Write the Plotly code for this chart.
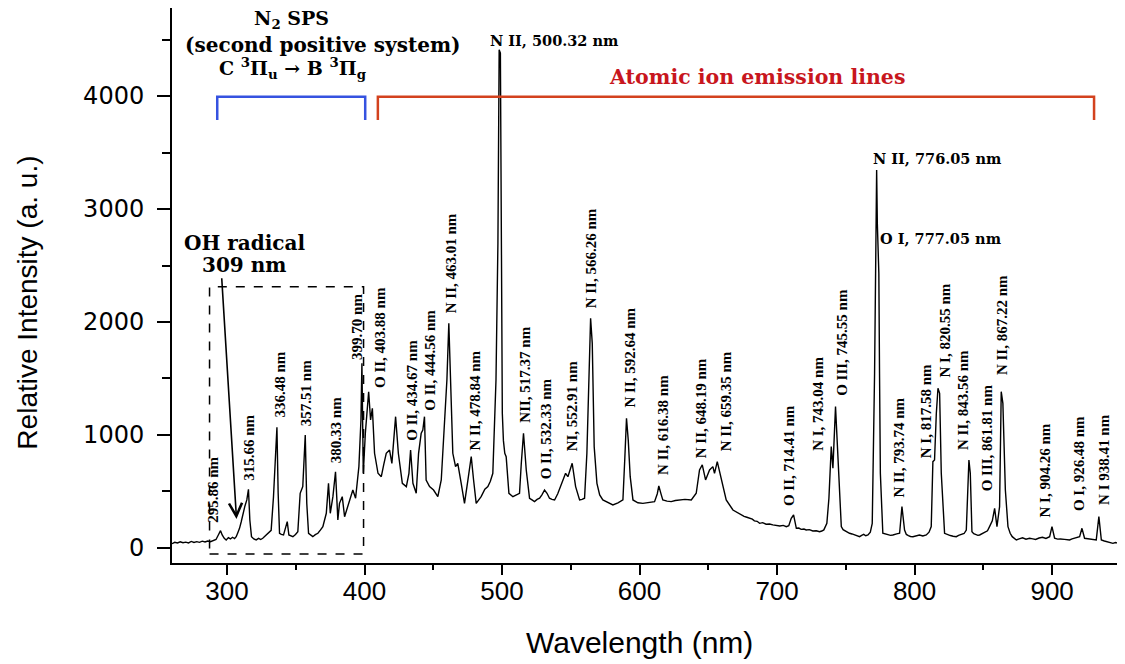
import plotly.graph_objects as go

# ---------------- data ----------------
wavelength_nm = [
    260.0, 262.0, 264.0, 266.0, 268.0, 270.0, 272.0, 274.0, 276.0, 278.0,
    280.0, 282.0, 284.0, 286.0, 288.0, 290.0, 292.0, 293.5, 295.3, 296.5,
    298.0, 299.4, 301.0, 302.5, 304.0, 305.5, 306.7, 308.0, 309.1, 310.3,
    311.5, 313.0, 314.4, 315.6, 316.6, 317.8, 319.5, 321.2, 323.0, 324.5,
    326.0, 328.0, 329.7, 332.1, 333.8, 335.2, 336.3, 337.2, 338.2, 339.5,
    341.1, 342.6, 343.8, 345.0, 346.5, 347.9, 349.8, 351.5, 353.2, 355.1,
    356.9, 358.0, 359.3, 361.0, 362.4, 364.2, 366.1, 368.0, 369.7, 372.2,
    373.8, 375.1, 377.0, 378.9, 380.6, 381.8, 383.8, 385.5, 387.9, 390.4,
    391.5, 393.5, 395.9, 397.4, 398.1, 399.1, 400.6, 403.0, 404.4, 405.7,
    407.3, 409.8, 412.2, 414.0, 415.8, 418.2, 419.9, 422.6, 424.6, 427.5,
    430.4, 432.3, 433.5, 435.2, 437.6, 439.3, 441.2, 442.4, 443.6, 444.8,
    447.3, 450.2, 453.3, 455.8, 458.2, 459.9, 461.3, 462.5, 464.2, 466.2,
    467.8, 470.3, 472.7, 475.2, 477.6, 479.3, 481.2, 484.8, 487.5, 489.7,
    491.5, 493.3, 495.6, 497.0, 497.9, 498.8, 499.6, 500.2, 501.0, 502.0,
    503.0, 505.0, 507.9, 510.3, 512.7, 514.0, 515.6, 517.6, 520.0, 521.8,
    523.6, 525.5, 527.3, 529.0, 530.9, 532.7, 534.5, 536.3, 538.2, 540.5,
    543.0, 546.2, 547.9, 549.5, 551.0, 553.5, 556.4, 558.2, 560.0, 561.7,
    563.1, 564.4, 565.6, 567.0, 569.0, 571.0, 573.3, 577.0, 580.6, 584.3,
    587.9, 589.3, 590.5, 591.8, 593.2, 595.2, 598.8, 602.4, 606.7, 610.9,
    612.9, 614.0, 615.8, 616.9, 620.0, 623.0, 626.0, 629.1, 633.0, 637.6,
    641.2, 643.6, 645.6, 648.0, 650.9, 653.3, 654.5, 656.5, 659.4, 663.0,
    667.9, 670.5, 672.7, 674.5, 676.0, 678.0, 680.0, 682.0, 683.5, 685.5,
    687.3, 689.5, 692.0, 694.5, 696.9, 699.5, 702.0, 704.5, 706.7, 708.5,
    710.3, 712.0, 714.0, 715.8, 717.5, 719.5, 721.2, 723.5, 726.0, 728.5,
    730.9, 732.5, 734.0, 736.2, 737.7, 739.4, 740.6, 742.5, 743.8, 745.0,
    746.7, 748.0, 749.5, 751.0, 752.7, 754.5, 756.5, 758.0, 760.0, 761.5,
    763.0, 764.5, 766.1, 767.8, 769.2, 770.9, 771.9, 772.4, 772.9, 773.3,
    774.0, 774.5, 775.1, 776.9, 778.5, 780.5, 782.5, 784.2, 785.5, 787.0,
    789.1, 790.8, 792.7, 794.0, 795.5, 797.0, 798.8, 801.0, 803.5, 806.0,
    808.5, 810.5, 812.1, 813.3, 814.5, 815.8, 817.0, 818.2, 819.4, 821.8,
    824.0, 826.0, 828.0, 830.3, 832.0, 834.0, 836.0, 837.6, 838.8, 839.5,
    840.5, 841.7, 843.0, 844.5, 846.0, 847.3, 849.0, 851.0, 853.0, 854.5,
    856.5, 858.2, 859.9, 861.8, 863.0, 864.2, 866.0, 867.9, 869.5, 871.0,
    872.5, 874.0, 876.0, 878.5, 881.0, 883.6, 886.0, 888.0, 890.5, 893.0,
    895.5, 898.2, 899.9, 901.8, 904.0, 906.0, 909.0, 912.7, 914.5, 916.0,
    918.0, 920.0, 921.7, 923.6, 926.0, 928.0, 930.0, 932.1, 934.0, 935.8,
    938.0, 940.0, 942.0, 944.2, 946.0, 948.0, 950.5, 952.7,
]

intensity_au = [
    38, 50, 44, 55, 47, 52, 45, 58, 49, 56,
    50, 60, 53, 62, 55, 64, 75, 110, 153, 115,
    85, 71, 92, 80, 95, 84, 100, 140, 174, 230,
    307, 370, 425, 519, 248, 100, 80, 71, 85, 75,
    86, 110, 130, 156, 454, 800, 1068, 484, 130, 120,
    115, 180, 233, 115, 105, 100, 120, 144, 484, 543,
    1000, 395, 130, 115, 100, 118, 130, 160, 189, 307,
    572, 307, 454, 675, 248, 395, 454, 277, 366, 454,
    513, 440, 720, 1133, 1634, 661, 1015, 1383, 1133, 1236,
    838, 661, 631, 740, 838, 867, 749, 1162, 838, 572,
    543, 661, 867, 572, 484, 838, 1015, 1044, 1162, 602,
    543, 513, 454, 602, 1133, 1487, 1988, 1428, 838, 720,
    749, 572, 395, 602, 808, 602, 395, 454, 520, 543,
    590, 661, 1487, 2700, 4410, 4380, 2300, 1192, 950, 838,
    808, 484, 454, 470, 484, 750, 1015, 690, 440, 425,
    410, 430, 440, 470, 513, 484, 440, 430, 425, 480,
    558, 661, 631, 700, 750, 543, 425, 430, 440, 838,
    1500, 2033, 1811, 897, 572, 470, 425, 400, 381, 400,
    425, 800, 1148, 950, 631, 425, 400, 395, 405, 410,
    480, 549, 470, 425, 415, 410, 420, 425, 430, 425,
    484, 690, 735, 602, 690, 720, 661, 764, 602, 425,
    336, 318, 300, 292, 280, 272, 263, 255, 240, 236,
    218, 224, 210, 212, 204, 196, 195, 200, 189, 198,
    263, 292, 174, 176, 165, 168, 159, 162, 150, 152,
    144, 150, 160, 218, 440, 897, 705, 1251, 941, 661,
    189, 162, 150, 138, 130, 124, 115, 108, 100, 112,
    120, 108, 115, 140, 218, 1546, 3021, 3345, 2873, 2726,
    2431, 1546, 661, 130, 124, 120, 112, 115, 122, 125,
    130, 366, 159, 120, 110, 102, 100, 108, 115, 106,
    115, 140, 189, 764, 779, 1192, 1413, 1369, 661, 130,
    118, 110, 104, 100, 112, 120, 128, 159, 661, 779,
    661, 144, 126, 120, 112, 115, 128, 140, 152, 189,
    240, 351, 189, 366, 1383, 1280, 513, 189, 130, 100,
    82, 71, 80, 90, 78, 86, 80, 75, 88, 95,
    84, 100, 189, 86, 78, 80, 76, 71, 80, 85,
    92, 100, 174, 86, 82, 80, 74, 71, 277, 71,
    62, 55, 50, 41, 48, 45, 36, 27,
]

# vertical peak labels: text, anchor wavelength, anchor intensity (bottom of text)
peak_labels = [
    "295.86 nm", "315.66 nm", "336.48 nm", "357.51 nm", "380.33 nm", "399.70 nm",
    "O II, 403.88 nm", "O II, 434.67 nm", "O II, 444.56 nm", "N II, 463.01 nm",
    "N II, 478.84 nm", "NII, 517.37 nm", "O II, 532.33 nm", "NI, 552.91 nm",
    "N II, 566.26 nm", "N II, 592.64 nm", "N II, 616.38 nm", "N II, 648.19 nm",
    "N II, 659.35 nm", "O II, 714.41 nm", "N I, 743.04 nm", "O III, 745.55 nm",
    "N II, 793.74 nm", "N I, 817.58 nm", "N I, 820.55 nm", "N II, 843.56 nm",
    "O III, 861.81 nm", "N II, 867.22 nm", "N I, 904.26 nm", "O I, 926.48 nm",
    "N I 938.41 nm",
]
peak_label_x = [
    289.7, 315.9, 338.2, 357.6, 379.4, 394.0,
    410.9, 434.0, 447.8, 463.1,
    480.0, 516.4, 532.1, 551.5,
    564.9, 592.7, 616.5, 644.9,
    663.1, 709.1, 729.7, 746.7,
    788.4, 808.5, 821.8, 834.7,
    853.3, 863.1, 894.5, 920.0,
    938.2,
]
peak_label_y = [
    204, 575, 1133, 1062, 735, 1649,
    1398, 929, 1195, 2062,
    841, 1088, 587, 841,
    2106, 1221, 631, 779,
    841, 354, 841, 1327,
    425, 779, 1487, 852,
    487, 1516, 248, 310,
    365,
]

# horizontal labels of the strongest lines
strong_labels = ["N II, 500.32 nm", "N II, 776.05 nm", "O I, 777.05 nm"]
strong_label_x = [489.7, 768.0, 773.1]
strong_label_y = [4490, 3451, 2743]

# regions
n2_region = [292.9, 400.5]
ion_region = [409.7, 930.5]
oh_box = [287.3, 399.3, -53, 2312]

# ---------------- figure ----------------
fig = go.Figure()
fig.add_trace(go.Scatter(
    x=wavelength_nm, y=intensity_au, mode="lines",
    line=dict(color="black", width=1.4), showlegend=False, hoverinfo="skip",
))

label_font = dict(family="Liberation Serif", size=15, color="black", weight="bold")
ann = []
for t, x, y in zip(peak_labels, peak_label_x, peak_label_y):
    ann.append(dict(x=x, y=y, xref="x", yref="y", text=t, textangle=-90,
                    showarrow=False, xanchor="center", yanchor="bottom",
                    font=label_font))

strong_font = dict(family="DejaVu Serif", size=14.5, color="black", weight="bold")
for t, x, y in zip(strong_labels, strong_label_x, strong_label_y):
    ann.append(dict(x=x, y=y, xref="x", yref="y", text=t, showarrow=False,
                    xanchor="left", yanchor="middle", font=strong_font))

head_font = dict(family="DejaVu Serif", size=20, color="black", weight="bold")
head_font_small = dict(family="DejaVu Serif", size=19, color="black", weight="bold")
ann += [
    dict(x=346.9, y=4680, xref="x", yref="y", text="N<sub>2</sub> SPS",
         showarrow=False, xanchor="center", yanchor="middle", font=head_font_small),
    dict(x=369.5, y=4451, xref="x", yref="y", text="(second positive system)",
         showarrow=False, xanchor="center", yanchor="middle", font=head_font),
    dict(x=347.6, y=4240, xref="x", yref="y",
         text="C <sup>3</sup>Π<sub>u</sub> → B <sup>3</sup>Π<sub>g</sub>",
         showarrow=False, xanchor="center", yanchor="middle", font=head_font_small),
    dict(x=685.1, y=4171, xref="x", yref="y", text="Atomic ion emission lines",
         showarrow=False, xanchor="center", yanchor="middle",
         font=dict(family="DejaVu Serif", size=20.5, color="#c8161d", weight="bold")),
    dict(x=312.7, y=2699, xref="x", yref="y", text="OH radical",
         showarrow=False, xanchor="center", yanchor="middle", font=head_font),
    dict(x=312.7, y=2504, xref="x", yref="y", text="309 nm",
         showarrow=False, xanchor="center", yanchor="middle", font=head_font),
    # OH arrow
    dict(x=306.9, y=257, ax=296.1, ay=2401, xref="x", yref="y", axref="x", ayref="y",
         text="", showarrow=True, arrowhead=5, arrowsize=1.6, arrowwidth=1.6,
         arrowcolor="black", standoff=0, startstandoff=0),
    # axis titles
    dict(x=-0.152, y=0.4694, xref="paper", yref="paper", text="Relative Intensity (a. u.)",
         textangle=-90, showarrow=False, xanchor="center", yanchor="middle",
         font=dict(family="Liberation Sans", size=28, color="black")),
    dict(x=0.491, y=-0.144, xref="paper", yref="paper", text="Wavelength (nm)",
         showarrow=False, xanchor="center", yanchor="middle",
         font=dict(family="Liberation Sans", size=30, color="black")),
]

yb, yt = 3788, 3994
shapes = [
    dict(type="rect", xref="x", yref="y", x0=oh_box[0], x1=oh_box[1], y0=oh_box[2], y1=oh_box[3],
         line=dict(color="black", width=1.5, dash="dash")),
    dict(type="path", xref="x", yref="y",
         path=f"M {n2_region[0]},{yb} L {n2_region[0]},{yt} L {n2_region[1]},{yt} L {n2_region[1]},{yb}",
         line=dict(color="#3552e0", width=2.5)),
    dict(type="path", xref="x", yref="y",
         path=f"M {ion_region[0]},{yb} L {ion_region[0]},{yt} L {ion_region[1]},{yt} L {ion_region[1]},{yb}",
         line=dict(color="#d3421e", width=2.5)),
]

# The page adds an 8 px body margin, so the figure is 8 px smaller than the window.
fig.update_layout(
    width=1117, height=656,
    margin=dict(l=164, r=0, t=0, b=101),
    paper_bgcolor="white", plot_bgcolor="white",
    showlegend=False,
    annotations=ann, shapes=shapes,
    xaxis=dict(range=[260, 953], showgrid=False, zeroline=False,
               showline=True, linecolor="black", linewidth=2,
               ticks="outside", ticklen=10, tickwidth=2, tickcolor="black",
               tickmode="array", tickvals=[300, 400, 500, 600, 700, 800, 900],
               ticktext=["300", "400", "500", "600", "700", "800", "900"],
               tickfont=dict(family="Liberation Sans", size=26, color="black"),
               ticklabelstandoff=-6,
               minor=dict(tickmode="array", tickvals=[350, 450, 550, 650, 750, 850, 950],
                          ticks="outside", ticklen=5, tickwidth=2, tickcolor="black")),
    yaxis=dict(range=[-133, 4779], showgrid=False, zeroline=False,
               showline=True, linecolor="black", linewidth=2,
               ticks="outside", ticklen=13, tickwidth=2, tickcolor="black",
               tickmode="array", tickvals=[0, 1000, 2000, 3000, 4000],
               ticktext=["0", "1000", "2000", "3000", "4000"],
               tickfont=dict(family="DejaVu Sans", size=24, color="black"),
               ticklabelstandoff=8,
               minor=dict(tickmode="array", tickvals=[500, 1500, 2500, 3500, 4500],
                          ticks="outside", ticklen=8, tickwidth=2, tickcolor="black")),
)

fig.write_html("out.html")
